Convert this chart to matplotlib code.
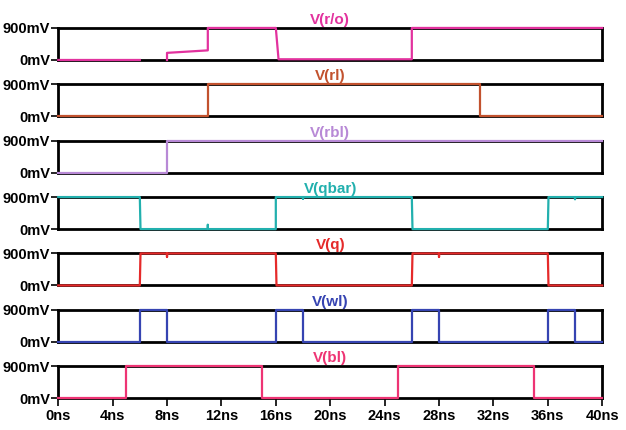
import matplotlib.pyplot as plt
import numpy as np
from matplotlib import font_manager

# transient waveforms, time in ns, voltage in V
names = ["V(r/o)", "V(rl)", "V(rbl)", "V(qbar)", "V(q)", "V(wl)", "V(bl)"]
colors = ["#e2329e", "#c2522e", "#b889d6", "#22b0ae", "#e52a2a", "#3644b2", "#ee3474"]

ro_t = [0, 6, 6, 8, 8, 8, 11, 11, 16, 16.2, 26, 26, 40]
ro_v = [0, 0, np.nan, np.nan, 0.0, 0.2, 0.27, 0.9, 0.9, 0.02, 0.02, 0.9, 0.9]

rl_t = [0, 11, 11, 31, 31, 40]
rl_v = [0, 0, 0.9, 0.9, 0, 0]

rbl_t = [0, 8, 8, 40]
rbl_v = [0, 0, 0.9, 0.9]

qbar_t = [0, 6, 6.05, 11, 11, 11, 16, 16, 18, 18, 18, 26, 26.05, 36, 36.05, 38, 38, 38, 40]
qbar_v = [0.9, 0.9, 0, 0, 0.12, 0, 0, 0.9, 0.9, 0.85, 0.9, 0.9, 0, 0, 0.9, 0.9, 0.84, 0.9, 0.9]

q_t = [0, 6, 6.05, 8, 8, 8, 16, 16.05, 26, 26.05, 28, 28, 28, 36, 36.05, 40]
q_v = [0, 0, 0.9, 0.9, 0.8, 0.9, 0.9, 0, 0, 0.9, 0.9, 0.8, 0.9, 0.9, 0, 0]

wl_t = [0, 6, 6, 8, 8, 16, 16, 18, 18, 26, 26, 28, 28, 36, 36, 38, 38, 40]
wl_v = [0, 0, 0.9, 0.9, 0, 0, 0.9, 0.9, 0, 0, 0.9, 0.9, 0, 0, 0.9, 0.9, 0, 0]

bl_t = [0, 5, 5, 15, 15, 25, 25, 35, 35, 40]
bl_v = [0, 0, 0.9, 0.9, 0, 0, 0.9, 0.9, 0, 0]

series = [(ro_t, ro_v), (rl_t, rl_v), (rbl_t, rbl_v), (qbar_t, qbar_v),
          (q_t, q_v), (wl_t, wl_v), (bl_t, bl_v)]
x_ticks = [0, 4, 8, 12, 16, 20, 24, 28, 32, 36, 40]

installed = {f.name for f in font_manager.fontManager.ttflist}
print(sorted(n for n in installed if "Narrow" in n or "Condensed" in n))
font = [f for f in ["Liberation Sans Narrow", "DejaVu Sans Condensed", "Liberation Sans"]
        if f in installed] + ["DejaVu Sans"]

fig, axes = plt.subplots(7, 1, figsize=(6.26, 4.30), dpi=100, sharex=True)
fig.subplots_adjust(left=0.093, right=0.962, top=0.935, bottom=0.074, hspace=0.76)

for ax, name, color, (t, v) in zip(axes, names, colors, series):
    ax.plot(t, v, color=color, lw=1.6, clip_on=False, zorder=5)
    ax.set_xlim(0, 40)
    ax.set_ylim(0, 0.9)
    ax.set_yticks([0, 0.9])
    ax.set_yticklabels(["0mV", "900mV"], family=font, weight="bold", fontsize=10.5)
    for s in ax.spines.values():
        s.set_linewidth(2)
        s.set_color("black")
    ax.tick_params(axis="y", length=5, width=1.2, pad=1)
    ax.tick_params(axis="x", length=0)
    ax.set_title(name, color=color, family=font, weight="bold", fontsize=11, pad=3)

last = axes[-1]
last.set_xticks(x_ticks)
last.set_xticklabels([f"{x}ns" for x in x_ticks], family=font, weight="bold", fontsize=10.5)
last.tick_params(axis="x", length=6, width=1.2, pad=2)

fig.savefig("out.png", dpi=100)
